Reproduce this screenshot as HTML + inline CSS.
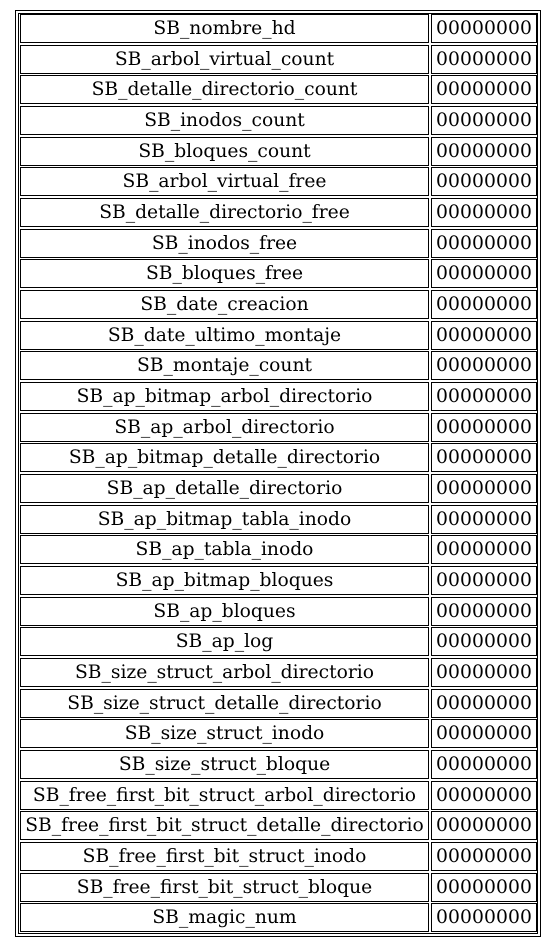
<!DOCTYPE html>
<html><head><meta charset="utf-8"><style>
body{margin:0;width:556px;height:947px;background:#fff;position:relative;overflow:hidden;font-family:"DejaVu Serif","Liberation Serif",serif;}
.o{position:absolute;left:15px;top:10px;width:524px;height:925px;border:1px solid #000;}
.i{position:absolute;left:18px;top:13px;width:518px;height:919px;border:1px solid #000;}
.r{position:absolute;left:20px;height:29px;width:517px;}
.a,.b{position:absolute;top:0;height:27px;border:1px solid #000;box-sizing:content-box;line-height:27px;text-align:center;font-size:18.7px;white-space:nowrap;color:#000;}
.a{left:0;width:407px;}
.b{left:411px;width:104px;letter-spacing:0.1px;}
</style></head><body>
<div class="o"></div><div class="i"></div>
<div class="r" style="top:14px"><div class="a">SB_nombre_hd</div><div class="b">00000000</div></div>
<div class="r" style="top:45px"><div class="a">SB_arbol_virtual_count</div><div class="b">00000000</div></div>
<div class="r" style="top:75px"><div class="a">SB_detalle_directorio_count</div><div class="b">00000000</div></div>
<div class="r" style="top:106px"><div class="a">SB_inodos_count</div><div class="b">00000000</div></div>
<div class="r" style="top:137px"><div class="a">SB_bloques_count</div><div class="b">00000000</div></div>
<div class="r" style="top:167px"><div class="a">SB_arbol_virtual_free</div><div class="b">00000000</div></div>
<div class="r" style="top:198px"><div class="a">SB_detalle_directorio_free</div><div class="b">00000000</div></div>
<div class="r" style="top:229px"><div class="a">SB_inodos_free</div><div class="b">00000000</div></div>
<div class="r" style="top:259px"><div class="a">SB_bloques_free</div><div class="b">00000000</div></div>
<div class="r" style="top:290px"><div class="a">SB_date_creacion</div><div class="b">00000000</div></div>
<div class="r" style="top:321px"><div class="a">SB_date_ultimo_montaje</div><div class="b">00000000</div></div>
<div class="r" style="top:351px"><div class="a">SB_montaje_count</div><div class="b">00000000</div></div>
<div class="r" style="top:382px"><div class="a">SB_ap_bitmap_arbol_directorio</div><div class="b">00000000</div></div>
<div class="r" style="top:413px"><div class="a">SB_ap_arbol_directorio</div><div class="b">00000000</div></div>
<div class="r" style="top:443px"><div class="a">SB_ap_bitmap_detalle_directorio</div><div class="b">00000000</div></div>
<div class="r" style="top:474px"><div class="a">SB_ap_detalle_directorio</div><div class="b">00000000</div></div>
<div class="r" style="top:505px"><div class="a">SB_ap_bitmap_tabla_inodo</div><div class="b">00000000</div></div>
<div class="r" style="top:535px"><div class="a">SB_ap_tabla_inodo</div><div class="b">00000000</div></div>
<div class="r" style="top:566px"><div class="a">SB_ap_bitmap_bloques</div><div class="b">00000000</div></div>
<div class="r" style="top:597px"><div class="a">SB_ap_bloques</div><div class="b">00000000</div></div>
<div class="r" style="top:627px"><div class="a">SB_ap_log</div><div class="b">00000000</div></div>
<div class="r" style="top:658px"><div class="a">SB_size_struct_arbol_directorio</div><div class="b">00000000</div></div>
<div class="r" style="top:689px"><div class="a">SB_size_struct_detalle_directorio</div><div class="b">00000000</div></div>
<div class="r" style="top:719px"><div class="a">SB_size_struct_inodo</div><div class="b">00000000</div></div>
<div class="r" style="top:750px"><div class="a">SB_size_struct_bloque</div><div class="b">00000000</div></div>
<div class="r" style="top:781px"><div class="a">SB_free_first_bit_struct_arbol_directorio</div><div class="b">00000000</div></div>
<div class="r" style="top:811px"><div class="a">SB_free_first_bit_struct_detalle_directorio</div><div class="b">00000000</div></div>
<div class="r" style="top:842px"><div class="a">SB_free_first_bit_struct_inodo</div><div class="b">00000000</div></div>
<div class="r" style="top:873px"><div class="a">SB_free_first_bit_struct_bloque</div><div class="b">00000000</div></div>
<div class="r" style="top:903px"><div class="a">SB_magic_num</div><div class="b">00000000</div></div>
</body></html>
